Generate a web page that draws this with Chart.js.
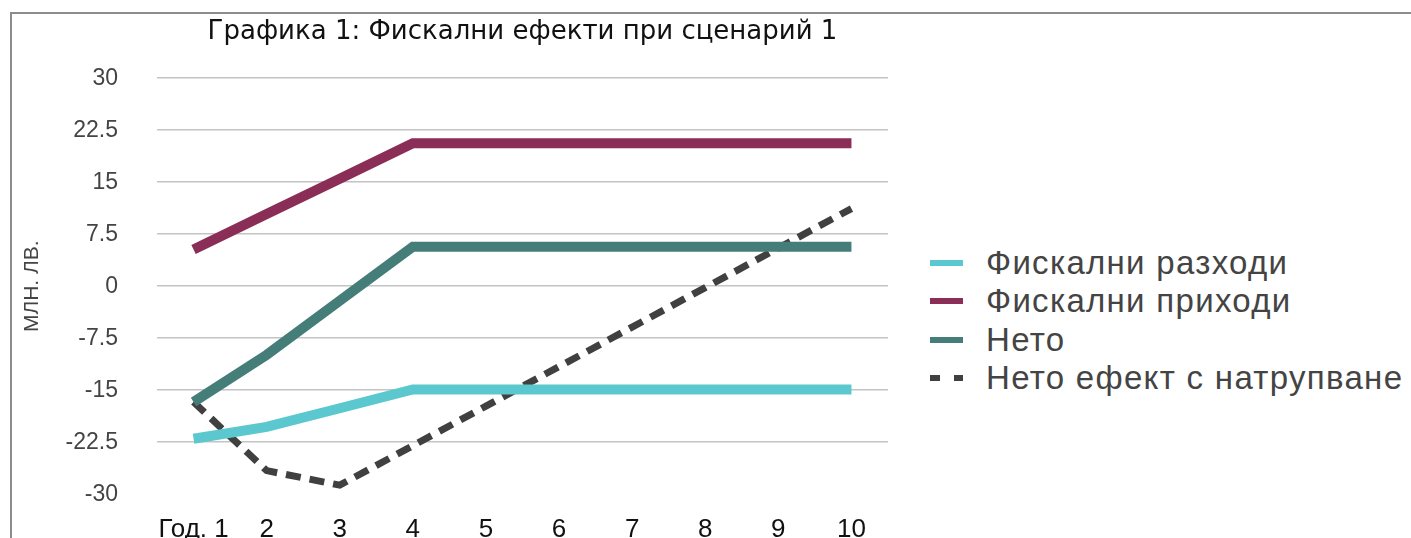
<!DOCTYPE html>
<html>
<head>
<meta charset="utf-8">
<script src="https://cdn.jsdelivr.net/npm/chart.js@4.4.0/dist/chart.umd.min.js"></script>
<style>
    html, body { margin: 0; padding: 0; background: #fff; overflow: hidden; }
    #wrap { position: relative; width: 1411px; height: 538px; overflow: hidden; }
    #frame { position: absolute; left: 10px; top: 12px; width: 1420px; height: 600px; border-left: 2px solid #8c8c8c; border-top: 2px solid #8c8c8c; }
    #box { position: absolute; left: 0; top: 0; width: 900px; height: 547px; }
    #legend { position: absolute; left: 930px; top: 244px; font-family: 'Liberation Sans', sans-serif; font-size: 33px; letter-spacing: 1.3px; color: #444; }
    #legend .row { height: 38.3px; display: flex; align-items: center; }
    #legend .sw { width: 33px; height: 6px; margin-right: 23px; }
</style>
</head>
<body>
<div id="wrap">
    <div id="frame"></div>
    <div id="box"><canvas id="chart"></canvas></div>
    <div id="legend"></div>
</div>
<script>
// Données
const years = ['Год. 1', '2', '3', '4', '5', '6', '7', '8', '9', '10'];
const expenses = [-22.0, -20.3, -17.6, -14.9, -14.9, -14.9, -14.9, -14.9, -14.9, -14.9];
const revenues = [5.3, 10.4, 15.5, 20.6, 20.6, 20.6, 20.6, 20.6, 20.6, 20.6];
const net = [-16.7, -9.9, -2.1, 5.7, 5.7, 5.7, 5.7, 5.7, 5.7, 5.7];
const netCumulative = [-16.7, -26.6, -28.7, -23.0, -17.3, -11.6, -5.9, -0.2, 5.5, 11.2];
const yTicks = [-30, -22.5, -15, -7.5, 0, 7.5, 15, 22.5, 30];

function lineSet(label, data, color, width, dash) {
    return {
        label: label,
        data: data,
        borderColor: color,
        backgroundColor: color,
        borderWidth: width,
        borderDash: dash || [],
        borderCapStyle: 'butt',
        borderJoinStyle: 'miter',
        pointRadius: 0,
        tension: 0,
        fill: false
    };
}

// Légende HTML à droite (la légende Chart.js est trop étroite en position right)
function renderLegend(chart) {
    const el = document.getElementById('legend');
    el.innerHTML = chart.data.datasets.map(ds => {
        const bg = ds.borderDash.length
            ? `repeating-linear-gradient(to right, ${ds.borderColor} 0 10px, transparent 10px 24px)`
            : ds.borderColor;
        return `<div class="row"><span class="sw" style="background:${bg}"></span>${ds.label}</div>`;
    }).join('');
}

const chart = new Chart(document.getElementById('chart').getContext('2d'), {
    type: 'line',
    data: {
        labels: years,
        datasets: [
            lineSet('Фискални разходи', expenses, '#5BC7CF', 10),
            lineSet('Фискални приходи', revenues, '#8A2D57', 10),
            lineSet('Нето', net, '#457E79', 10),
            lineSet('Нето ефект с натрупване', netCumulative, '#404040', 7, [15, 9])
        ]
    },
    options: {
        responsive: true,
        maintainAspectRatio: false,
        animation: false,
        layout: { padding: { left: 20, right: 12, top: 17, bottom: 0 } },
        plugins: {
            tooltip: { enabled: false },
            legend: { display: false },
            title: {
                display: true,
                text: 'Графика 1: Фискални ефекти при сценарий 1',
                fullSize: false,
                color: '#111',
                font: { family: 'DejaVu Sans', size: 26, weight: 'normal' },
                padding: { top: 0, bottom: 30 }
            }
        },
        scales: {
            x: {
                offset: true,
                grid: { display: false, drawTicks: false },
                border: { display: false },
                ticks: { color: '#111', font: { family: 'Liberation Sans', size: 26 }, padding: 20, maxRotation: 0, autoSkip: false },
                afterFit(axis) { axis.height = 50; }
            },
            y: {
                min: -30,
                max: 30,
                afterBuildTicks(axis) { axis.ticks = yTicks.map(v => ({ value: v })); },
                afterFit(axis) { axis.width = 137; },
                grid: {
                    drawTicks: false,
                    lineWidth: 1.5,
                    color: ctx => ctx.tick && ctx.tick.value === -30 ? 'rgba(0,0,0,0)' : '#c4c4c4'
                },
                border: { display: false },
                ticks: { color: '#444', font: { family: 'Liberation Sans', size: 23 }, padding: 39 },
                title: {
                    display: true,
                    text: 'МЛН. ЛВ.',
                    color: '#444',
                    font: { family: 'Liberation Sans', size: 21 },
                    padding: { top: 0, bottom: 8 }
                }
            }
        }
    }
});

renderLegend(chart);
</script>
</body>
</html>
